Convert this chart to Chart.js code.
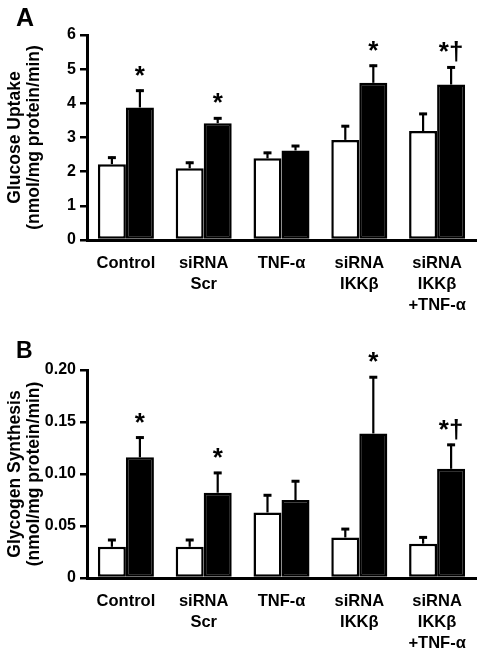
<!DOCTYPE html>
<html>
<head>
<meta charset="utf-8">
<script src="https://cdn.jsdelivr.net/npm/chart.js@4.4.1/dist/chart.umd.min.js"></script>
<style>
  html, body { margin: 0; padding: 0; background: #fff; }
  .panel { width: 480px; height: 326px; position: relative; }
  canvas { display: block; }
</style>
</head>
<body>
<div class="panel"><canvas id="chartA" width="480" height="326"></canvas></div>
<div class="panel"><canvas id="chartB" width="480" height="326"></canvas></div>
<script>
// ---- Data ----
const categories = [["Control"], ["siRNA", "Scr"], ["TNF-α"], ["siRNA", "IKKβ"], ["siRNA", "IKKβ", "+TNF-α"]];

// Panel A: Glucose uptake
const glucoseWhite = [2.22, 2.10, 2.39, 2.93, 3.19];
const glucoseWhiteErr = [0.22, 0.19, 0.19, 0.43, 0.53];
const glucoseBlack = [3.88, 3.42, 2.62, 4.60, 4.55];
const glucoseBlackErr = [0.52, 0.17, 0.16, 0.53, 0.53];
const glucoseSig = ["*", "*", "", "*", "*†"];
const glucoseTicks = ["0", "1", "2", "3", "4", "5", "6"];

// Panel B: Glycogen synthesis
const glycogenWhite = [0.030, 0.030, 0.063, 0.039, 0.033];
const glycogenWhiteErr = [0.0075, 0.0075, 0.0175, 0.009, 0.007];
const glycogenBlack = [0.116, 0.082, 0.075, 0.139, 0.105];
const glycogenBlackErr = [0.020, 0.020, 0.019, 0.055, 0.024];
const glycogenSig = ["*", "*", "", "*", "*†"];
const glycogenTicks = ["0", "0.05", "0.10", "0.15", "0.20"];

const FONT = "'Liberation Sans', Arial, Helvetica, sans-serif";

function overlayPlugin(errs, sig, letter, letterSize, letterY) {
  return {
    id: 'overlay',
    afterDatasetsDraw(chart) {
      const ctx = chart.ctx;
      const y = chart.scales.y;
      ctx.save();
      ctx.strokeStyle = '#000';
      ctx.fillStyle = '#000';
      chart.data.datasets.forEach((ds, di) => {
        const meta = chart.getDatasetMeta(di);
        meta.data.forEach((bar, i) => {
          const v = ds.data[i];
          const top = y.getPixelForValue(v + errs[di][i]);
          const base = y.getPixelForValue(v);
          ctx.lineWidth = 2.2;
          ctx.beginPath();
          ctx.moveTo(bar.x, base);
          ctx.lineTo(bar.x, top);
          ctx.stroke();
          ctx.lineWidth = 3;
          ctx.beginPath();
          ctx.moveTo(bar.x - 4, top + 1);
          ctx.lineTo(bar.x + 4, top + 1);
          ctx.stroke();
        });
      });
      // significance marks above the black bars
      const metaB = chart.getDatasetMeta(1);
      ctx.font = "bold 26px " + FONT;
      ctx.textAlign = 'center';
      ctx.textBaseline = 'alphabetic';
      sig.forEach((s, i) => {
        if (!s) return;
        const bar = metaB.data[i];
        const top = y.getPixelForValue(chart.data.datasets[1].data[i] + errs[1][i]);
        ctx.fillText(s, bar.x, top - 6);
      });
      // panel letter
      ctx.font = "bold " + letterSize + "px " + FONT;
      ctx.textAlign = 'left';
      ctx.fillText(letter, 16, letterY);
      ctx.restore();
    }
  };
}

function makeChart(id, white, whiteErr, black, blackErr, sig, ticks, yMax, step, title, topPad, xHeight, letter, letterSize, letterY) {
  return new Chart(document.getElementById(id), {
    type: 'bar',
    data: {
      labels: categories,
      datasets: [
        { label: 'basal', data: white, backgroundColor: '#fff', borderColor: '#000', borderWidth: 2.5, borderSkipped: false },
        { label: 'insulin', data: black, backgroundColor: '#000', borderColor: '#000', borderWidth: 2.5, borderSkipped: false }
      ]
    },
    options: {
      responsive: false,
      animation: false,
      devicePixelRatio: 1,
      layout: { padding: { top: topPad, right: 4, left: 0, bottom: 0 } },
      datasets: { bar: { categoryPercentage: 0.72, barPercentage: 1.0 } },
      plugins: { legend: { display: false }, tooltip: { enabled: false } },
      scales: {
        x: {
          grid: { display: false },
          border: { display: true, color: '#000', width: 3 },
          ticks: { color: '#000', padding: 5, maxRotation: 0, autoSkip: false,
                   font: { family: FONT, size: 16.5, weight: 'bold', lineHeight: 1.28 } },
          afterFit: (s) => { s.height = xHeight; }
        },
        y: {
          min: 0, max: yMax,
          grid: { display: true, drawOnChartArea: false, drawTicks: true, tickLength: 7, lineWidth: 2.5, color: '#000' },
          border: { display: true, color: '#000', width: 3 },
          ticks: { stepSize: step, color: '#000', padding: 4,
                   font: { family: FONT, size: 16, weight: 'bold' },
                   callback: (v, i) => ticks[i] },
          title: { display: true, text: title, color: '#000', padding: { top: 5, bottom: 0 },
                   font: { family: FONT, size: 17.5, weight: 'bold', lineHeight: 1.12 } },
          afterFit: (s) => { s.width = 87; }
        }
      }
    },
    plugins: [overlayPlugin([whiteErr, blackErr], sig, letter, letterSize, letterY)]
  });
}

makeChart('chartA', glucoseWhite, glucoseWhiteErr, glucoseBlack, glucoseBlackErr, glucoseSig, glucoseTicks,
          6, 1, ['Glucose Uptake', '(nmol/mg protein/min)'], 35, 86, 'A', 25, 26);
makeChart('chartB', glycogenWhite, glycogenWhiteErr, glycogenBlack, glycogenBlackErr, glycogenSig, glycogenTicks,
          0.2, 0.05, ['Glycogen Synthesis', '(nmol/mg protein/min)'], 44, 74, 'B', 23, 32);
</script>
</body>
</html>
